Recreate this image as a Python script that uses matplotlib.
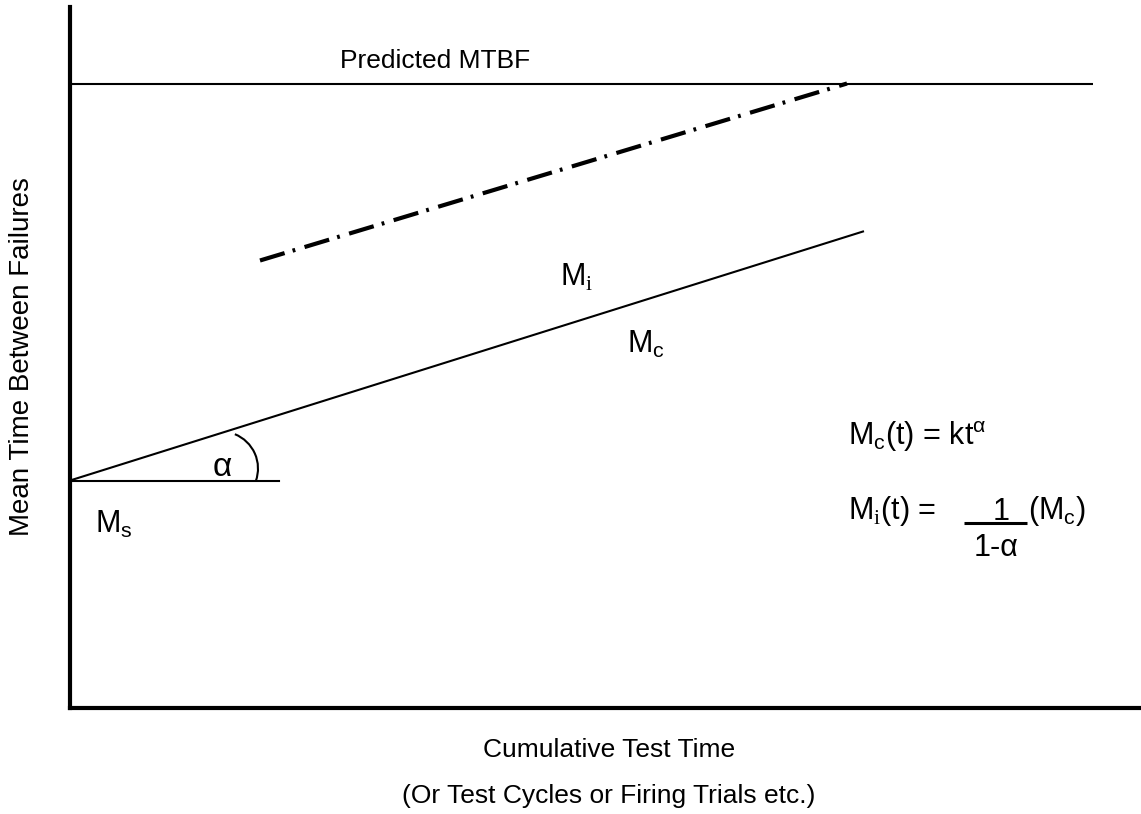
import matplotlib
matplotlib.use("Agg")
import matplotlib.pyplot as plt
from matplotlib.patches import Arc

plt.rcParams['font.family'] = ['Liberation Sans', 'DejaVu Sans']
plt.rcParams['mathtext.fontset'] = 'custom'
plt.rcParams['mathtext.rm'] = 'Liberation Sans'
plt.rcParams['mathtext.it'] = 'Liberation Sans'
plt.rcParams['mathtext.sf'] = 'Liberation Serif'
plt.rcParams['lines.scale_dashes'] = False

# schematic growth curves (arbitrary units)
mtbf_x = [0, 1023]
mtbf_y = [624, 624]
mi_x = [190, 777]
mi_y = [447, 624]
mc_x = [0, 793]
mc_y = [227, 476]
ms_x = [0, 209]
ms_y = [227, 227]
frac_x = [894, 957]
frac_y = [185, 185]

fig = plt.figure(figsize=(11.41, 8.14), dpi=100)
ax = fig.add_axes([70 / 1141, 106.5 / 814, 1071 / 1141, 700.5 / 814])
ax.set_xlim(0, 1071)
ax.set_ylim(0, 700.5)
for s in ['top', 'right']:
    ax.spines[s].set_visible(False)
for s in ['left', 'bottom']:
    ax.spines[s].set_linewidth(3)
ax.set_xticks([])
ax.set_yticks([])

ax.plot(mtbf_x, mtbf_y, color='black', lw=1.5, solid_capstyle='butt')
ax.plot(mi_x, mi_y, color='black', lw=3, dashes=(18.5, 6, 2, 7),
        dash_capstyle='butt')
ax.plot(mc_x, mc_y, color='black', lw=1.5)
ax.plot(ms_x, ms_y, color='black', lw=1.5)
ax.add_patch(Arc((151, 239), 74, 74, theta1=-20, theta2=68, color='black', lw=1.5))

fs = 22
ax.text(365, 640, 'Predicted MTBF', fontsize=19, ha='center', va='baseline')
ax.text(490, 422, r'M$_{\mathsf{i}}$', fontsize=fs, va='baseline')
ax.text(557, 355, r'M$_{\mathrm{c}}$', fontsize=fs, va='baseline')
ax.text(25, 175, r'M$_{\mathrm{s}}$', fontsize=fs, va='baseline')
ax.text(152, 232, 'α', fontsize=24, ha='center', va='baseline')

ax.text(778, 262, r'M$_{\mathrm{c}}$(t) = kt$^{\mathrm{α}}$', fontsize=fs, va='baseline')
ax.text(778, 188, r'M$_{\mathsf{i}}$(t) =', fontsize=fs, va='baseline')
ax.text(923, 188, '1', fontsize=fs, va='baseline')
ax.plot(frac_x, frac_y, color='black', lw=2.2, solid_capstyle='butt')
ax.text(958, 188, r'(M$_{\mathrm{c}}$)', fontsize=fs, va='baseline')
ax.text(904, 152, '1-α', fontsize=fs, va='baseline')

fig.text(609 / 1141, 1 - 757 / 814, 'Cumulative Test Time', fontsize=19,
         ha='center', va='baseline')
fig.text(609 / 1141, 1 - 803 / 814, '(Or Test Cycles or Firing Trials etc.)',
         fontsize=19, ha='center', va='baseline')
fig.text(22 / 1141, 1 - 357 / 814, 'Mean Time Between Failures', fontsize=20,
         rotation=90, ha='center', va='center')

fig.savefig('out.png', dpi=100)
